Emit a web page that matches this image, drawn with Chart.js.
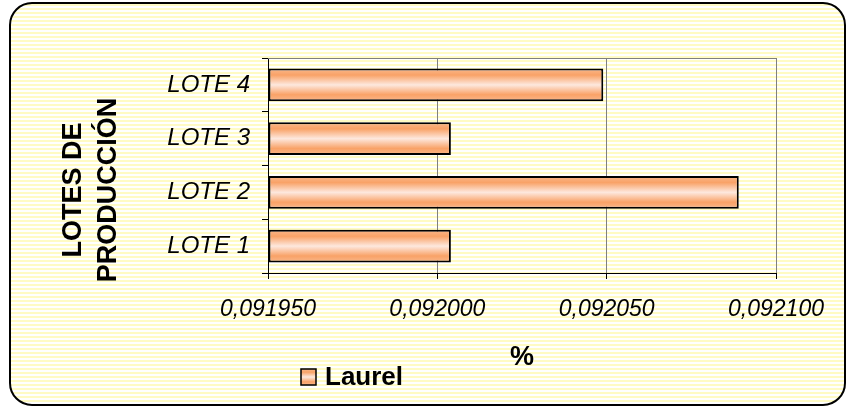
<!DOCTYPE html>
<html lang="es">
<head>
<meta charset="UTF-8">
<title>Lotes de producción</title>
<script src="https://cdn.jsdelivr.net/npm/chart.js"></script>
<style>
  body { margin: 0; background: #fff; }
  canvas { display: block; }
</style>
</head>
<body>
<canvas id="chart" width="847" height="408"></canvas>
<script>
const lotes = ['LOTE 1', 'LOTE 2', 'LOTE 3', 'LOTE 4'];
const laurel = [0.092004, 0.092089, 0.092004, 0.092049];
const xTicks = [0.09195, 0.092, 0.09205, 0.0921];
const serie = 'Laurel';
const tituloY = ['LOTES DE', 'PRODUCCIÓN'];
const tituloX = '%';

const FONT = '"Liberation Sans", Arial, sans-serif';

// pale yellow / white horizontal stripes
const stripe = document.createElement('canvas');
stripe.width = 4; stripe.height = 4;
const sctx = stripe.getContext('2d');
sctx.fillStyle = '#ffffff'; sctx.fillRect(0, 0, 4, 4);
sctx.fillStyle = '#fffbc4'; sctx.fillRect(0, 0, 4, 2);

function barGradient(g, top, bottom) {
  const gr = g.createLinearGradient(0, top, 0, bottom);
  gr.addColorStop(0, '#f9b88c');
  gr.addColorStop(0.2, '#f9a267');
  gr.addColorStop(0.5, '#fde8de');
  gr.addColorStop(0.8, '#f9a267');
  gr.addColorStop(1, '#f9b88c');
  return gr;
}

function roundRect(g, x, y, w, h, r) {
  g.beginPath();
  g.moveTo(x + r, y);
  g.lineTo(x + w - r, y);
  g.arcTo(x + w, y, x + w, y + r, r);
  g.lineTo(x + w, y + h - r);
  g.arcTo(x + w, y + h, x + w - r, y + h, r);
  g.lineTo(x + r, y + h);
  g.arcTo(x, y + h, x, y + h - r, r);
  g.lineTo(x, y + r);
  g.arcTo(x, y, x + r, y, r);
  g.closePath();
}

const BAR_PCT = 0.61;

const decor = {
  id: 'decor',
  beforeDraw(chart) {
    const g = chart.ctx;
    g.save();
    g.fillStyle = '#fff';
    g.fillRect(0, 0, chart.width, chart.height);
    roundRect(g, 10, 3, 835, 402, 22);
    g.fillStyle = g.createPattern(stripe, 'repeat');
    g.fill();
    g.lineWidth = 2;
    g.strokeStyle = '#000';
    g.stroke();
    g.restore();
  },
  afterDraw(chart) {
    const g = chart.ctx;
    const a = chart.chartArea;
    g.save();
    // top edge of plot area
    g.strokeStyle = '#808080';
    g.lineWidth = 1;
    g.beginPath();
    g.moveTo(a.left, a.top + 0.5);
    g.lineTo(a.right, a.top + 0.5);
    g.stroke();

    g.fillStyle = '#000';
    // y axis title
    g.font = 'bold 27px ' + FONT;
    g.textAlign = 'center';
    g.textBaseline = 'middle';
    g.save();
    g.translate(74, 190);
    g.rotate(-Math.PI / 2);
    g.fillText(tituloY[0], 0, 0);
    g.fillText(tituloY[1], 0, 35);
    g.restore();

    // x axis title
    g.textBaseline = 'alphabetic';
    g.fillText(tituloX, 522, 365);

    // legend
    g.fillStyle = barGradient(g, 369, 385);
    g.fillRect(301, 369, 15, 16);
    g.strokeStyle = '#000';
    g.lineWidth = 1.5;
    g.strokeRect(301, 369, 15, 16);
    g.fillStyle = '#000';
    g.textAlign = 'left';
    g.font = 'bold 26px ' + FONT;
    g.fillText(serie, 325, 385);
    g.restore();
  }
};

new Chart(document.getElementById('chart'), {
  type: 'bar',
  data: {
    labels: lotes,
    datasets: [{
      label: serie,
      data: laurel,
      base: xTicks[0],
      barPercentage: BAR_PCT,
      categoryPercentage: 1,
      borderColor: '#000',
      borderWidth: 2,
      borderSkipped: false,
      backgroundColor: function(ctx) {
        const chart = ctx.chart;
        const y = chart.scales.y;
        if (!y || ctx.dataIndex === undefined) return '#f9a46c';
        const c = y.getPixelForValue(ctx.dataIndex);
        const half = (y.height / lotes.length) * BAR_PCT / 2;
        if (!isFinite(c) || !isFinite(half) || half <= 0) return '#f9a46c';
        return barGradient(chart.ctx, c - half, c + half);
      }
    }]
  },
  options: {
    indexAxis: 'y',
    responsive: false,
    animation: false,
    layout: { padding: { left: 0, top: 58, right: 71, bottom: 0 } },
    plugins: {
      legend: { display: false },
      tooltip: { enabled: false }
    },
    scales: {
      x: {
        type: 'linear',
        min: xTicks[0],
        max: xTicks[xTicks.length - 1],
        afterBuildTicks(s) { s.ticks = xTicks.map(v => ({ value: v })); },
        afterFit(s) { s.height = 135; },
        grid: { color: '#808080', tickColor: '#000', tickLength: 6 },
        border: { color: '#000', width: 1 },
        ticks: {
          color: '#000',
          padding: 17,
          maxRotation: 0,
          font: { family: FONT, size: 23, style: 'italic' },
          callback: v => v.toFixed(6).replace('.', ',')
        }
      },
      y: {
        reverse: true,
        afterFit(s) { s.width = 268; },
        grid: { drawOnChartArea: false, tickColor: '#000', tickLength: 6 },
        border: { color: '#000', width: 1 },
        ticks: {
          color: '#000',
          padding: 12,
          font: { family: FONT, size: 24, style: 'italic' }
        }
      }
    }
  },
  plugins: [decor]
});
</script>
</body>
</html>
